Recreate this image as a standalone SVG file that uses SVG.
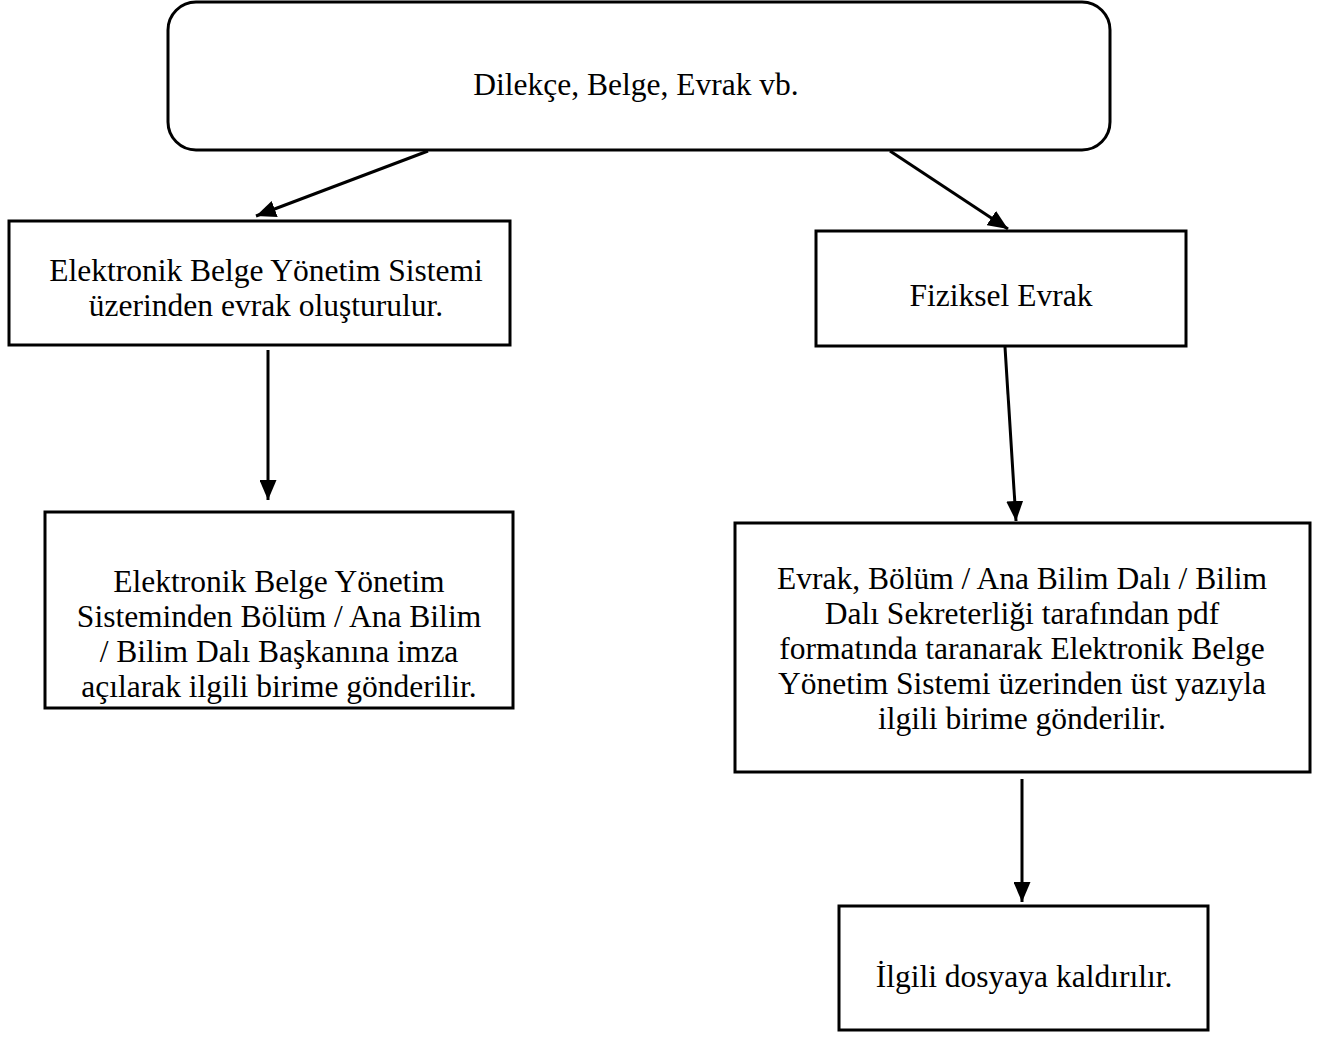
<svg xmlns="http://www.w3.org/2000/svg" width="1319" height="1063" viewBox="0 0 1319 1063">
<style>
.box{fill:#fff;stroke:#000;stroke-width:3}
.t{font-family:"Liberation Serif","Times New Roman",serif;font-size:31.5px;fill:#000;text-anchor:middle}
.c{stroke:#000;stroke-width:3;fill:none;marker-end:url(#ah)}
</style>
<defs>
<marker id="ah" markerUnits="userSpaceOnUse" markerWidth="20" markerHeight="17" viewBox="0 0 20 17" refX="20" refY="8.5" orient="auto">
<path d="M0,0 L20,8.5 L0,17 Z" fill="#000"/>
</marker>
</defs>
<rect width="1319" height="1063" fill="#fff"/>
<g id="n0">
<rect class="box" x="168" y="2" width="942" height="148" rx="28" ry="28"/>
<text class="t" x="636" y="95">Dilekçe, Belge, Evrak vb.</text>
</g>
<g id="n1">
<rect class="box" x="9" y="221" width="501" height="124"/>
<text class="t" x="266" y="281">Elektronik Belge Yönetim Sistemi</text>
<text class="t" x="266" y="316">üzerinden evrak oluşturulur.</text>
</g>
<g id="n2">
<rect class="box" x="816" y="231" width="370" height="115"/>
<text class="t" x="1001" y="306">Fiziksel Evrak</text>
</g>
<g id="n3">
<rect class="box" x="45" y="512" width="468" height="196"/>
<text class="t" x="279" y="592">Elektronik Belge Yönetim</text>
<text class="t" x="279" y="627">Sisteminden Bölüm / Ana Bilim</text>
<text class="t" x="279" y="662">/ Bilim Dalı Başkanına imza</text>
<text class="t" x="279" y="697">açılarak ilgili birime gönderilir.</text>
</g>
<g id="n4">
<rect class="box" x="735" y="523" width="575" height="249"/>
<text class="t" x="1022" y="589">Evrak, Bölüm / Ana Bilim Dalı / Bilim</text>
<text class="t" x="1022" y="624">Dalı Sekreterliği tarafından pdf</text>
<text class="t" x="1022" y="659">formatında taranarak Elektronik Belge</text>
<text class="t" x="1022" y="694">Yönetim Sistemi üzerinden üst yazıyla</text>
<text class="t" x="1022" y="729">ilgili birime gönderilir.</text>
</g>
<g id="n5">
<rect class="box" x="839" y="906" width="369" height="124"/>
<text class="t" x="1024" y="987">İlgili dosyaya kaldırılır.</text>
</g>
<g id="connectors">
<line class="c" x1="428" y1="151" x2="256" y2="216"/>
<line class="c" x1="890" y1="151" x2="1008" y2="229"/>
<line class="c" x1="268" y1="350" x2="268" y2="500"/>
<line class="c" x1="1005" y1="347" x2="1016" y2="521"/>
<line class="c" x1="1022" y1="779" x2="1022" y2="902"/>
</g>
</svg>
